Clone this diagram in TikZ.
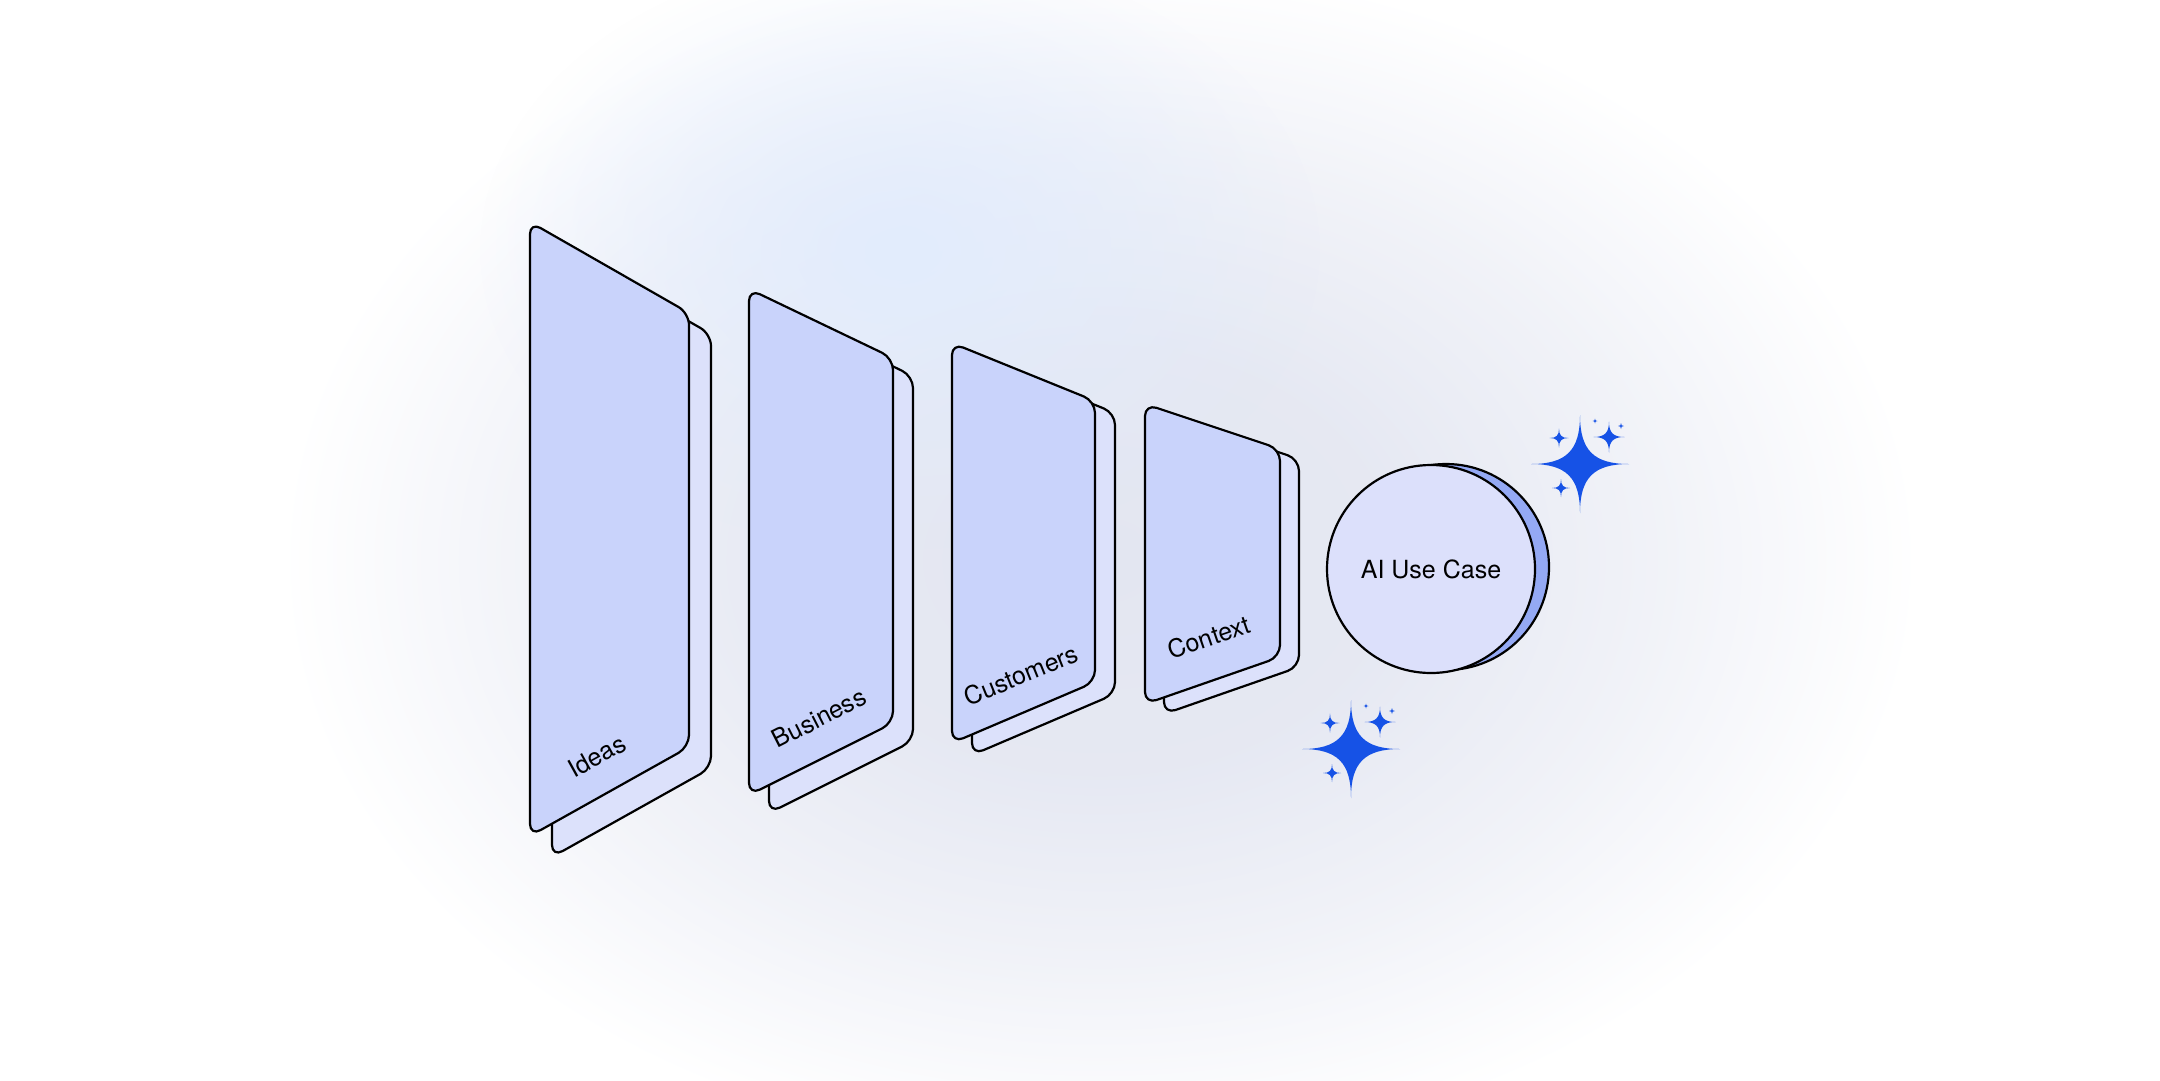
\documentclass[tikz,border=0pt]{standalone}
\usepackage{fontspec}
\setmainfont{TeX Gyre Heros}
\usepackage{xcolor}
\usetikzlibrary{arrows.meta, positioning, fadings}

\definecolor{cardfront}{HTML}{C9D3FB}
\definecolor{cardback}{HTML}{DCE1FB}
\definecolor{discfront}{HTML}{DCE0FB}
\definecolor{discback}{HTML}{94A9F4}
\definecolor{sparkblue}{HTML}{1652E6}
\definecolor{hazecore}{HTML}{E3E6F1}
\definecolor{glowblue}{HTML}{E2ECFD}

\pgfdeclareradialshading{haze}{\pgfpoint{0bp}{0bp}}{color(0bp)=(hazecore); color(9bp)=(hazecore!90!white); color(17bp)=(hazecore!50!white); color(25bp)=(white); color(50bp)=(white)}
\tikzfading[name=glowfade, inner color=transparent!0, outer color=transparent!100]

\tikzset{
  outline/.style={draw=black, line width=2.2pt, line join=round},
  frontcard/.style={outline, fill=cardfront, rounded corners=12pt},
  backcard/.style={outline, fill=cardback, rounded corners=12pt},
  labelfont/.style={font=\fontsize{25}{30}\selectfont},
  cardlabel/.style={labelfont, inner sep=0pt},
  twinkle/.pic={
    \fill[sparkblue] (0,-1) .. controls (0,-0.28) and (0.28,0) .. (1,0)
      .. controls (0.28,0) and (0,0.28) .. (0,1)
      .. controls (0,0.28) and (-0.28,0) .. (-1,0)
      .. controls (-0.28,0) and (0,-0.28) .. cycle;
  },
  sparklegroup/.pic={
    \pic[scale=49] at (0,0) {twinkle};
    \pic[scale=9.5] at (-21,-26) {twinkle};
    \pic[scale=15.5] at (29,-27) {twinkle};
    \pic[scale=9] at (-19,24) {twinkle};
    \pic[scale=2.5] at (15,-43) {twinkle};
    \pic[scale=3] at (41,-38) {twinkle};
  }
}

\begin{document}
\begin{tikzpicture}[x=1pt, y=-1pt]
    \useasboundingbox (0,0) rectangle (2160,1080);
    % background haze
    \fill[white] (0,0) rectangle (2160,1080);
    \shade[shading=haze] (1100,560) ellipse (820pt and 600pt);
    \fill[glowblue, path fading=glowfade] (900,250) ellipse (420pt and 300pt);
    % stacked cards
    \foreach \xl/\xr/\ytl/\ytr/\ybr/\ybl/\dx/\dy in {530/689/222/313/747/836/22/21, 749/893/289/358/723/795/20/18, 952/1095/343/401/682/743/20/12, 1145/1280/404/449/657/704/19/10}{
        \draw[backcard, shift={(\dx,\dy)}] (\xl,\ytl) -- (\xr,\ytr) -- (\xr,\ybr) -- (\xl,\ybl) -- cycle;
        \draw[frontcard] (\xl,\ytl) -- (\xr,\ytr) -- (\xr,\ybr) -- (\xl,\ybl) -- cycle;
    }
    \node[cardlabel, rotate=29] (ideas) at (597,756) {Ideas};
    \node[cardlabel, rotate=27] (business) at (819,718) {Business};
    \node[cardlabel, rotate=22] (customers) at (1021,675) {Customers};
    \node[cardlabel, rotate=19] (context) at (1209,637) {Context};
    % result disc
    \draw[outline, fill=discback] (1446,567) circle (103pt);
    \node[outline, circle, fill=discfront, minimum size=208pt, inner sep=0pt, labelfont] (usecase) at (1431,569) {AI Use Case};
    % sparkles
    \pic at (1580,464) {sparklegroup};
    \pic at (1351,749) {sparklegroup};
\end{tikzpicture}
\end{document}
